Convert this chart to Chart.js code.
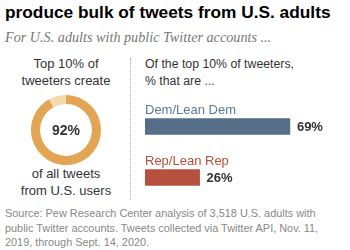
<!DOCTYPE html>
<html>
<head>
<meta charset="utf-8">
<script src="https://cdn.jsdelivr.net/npm/chart.js@4"></script>
<style>
  html, body { margin: 0; padding: 0; width: 350px; height: 250px; overflow: hidden; background: #fff; }
  body { position: relative; font-family: "Liberation Sans", Arial, sans-serif; color: #333; }
  .abs { position: absolute; }
  #title { left: 5px; top: 2px; font-size: 17.3px; font-weight: bold; color: #000; white-space: nowrap; }
  #subtitle { left: 5px; top: 29px; font-family: "Liberation Serif", serif; font-style: italic; font-size: 14.2px; color: #777; white-space: nowrap; }
  .center { text-align: center; font-size: 13px; line-height: 16.5px; }
  #topLeft { left: 6px; top: 56px; width: 120px; }
  #botLeft { left: 6px; top: 166px; width: 120px; }
  #topRight { left: 145px; top: 56px; font-size: 12.3px; line-height: 16.5px; white-space: nowrap; }
  #sep { left: 130px; top: 58px; height: 142px; border-left: 1px dotted #aaa; }
  #source { left: 5px; top: 206px; font-size: 10.9px; line-height: 14.5px; color: #888; white-space: nowrap; }
  #donutWrap { left: 31px; top: 95px; width: 70px; height: 70px; }
  #barWrap { left: 145px; top: 101px; width: 210px; height: 102px; }
</style>
</head>
<body>
<div id="title" class="abs">produce bulk of tweets from U.S. adults</div>
<div id="subtitle" class="abs">For U.S. adults with public Twitter accounts ...</div>
<div id="topLeft" class="abs center">Top 10% of<br>tweeters create</div>
<div id="botLeft" class="abs center">of all tweets<br>from U.S. users</div>
<div id="sep" class="abs"></div>
<div id="topRight" class="abs">Of the top 10% of tweeters,<br>% that are ...</div>
<div id="donutWrap" class="abs"><canvas id="donut"></canvas></div>
<div id="barWrap" class="abs"><canvas id="bars"></canvas></div>
<div id="source" class="abs">Source: Pew Research Center analysis of 3,518 U.S. adults with<br>public Twitter accounts. Tweets collected via Twitter API, Nov. 11,<br>2019, through Sept. 14, 2020.</div>

<script>
// share of all tweets by U.S. users
var tweetShare = [92, 8];
var tweetColors = ["#E3A453", "#F4D9AE"];

// party split of the top 10%
var parties = ["Dem/Lean Dem", "Rep/Lean Rep"];
var partyValues = [69, 26];
var partyColors = ["#546F87", "#B6513F"];
var partyTextColors = ["#5A7A95", "#B94D3B"];

var centerText = {
    id: "centerText",
    afterDraw: function (chart) {
        var ctx = chart.ctx;
        var arc = chart.getDatasetMeta(0).data[0];
        ctx.save();
        ctx.font = "bold 14px 'Liberation Sans', Arial, sans-serif";
        ctx.fillStyle = "#333";
        ctx.textAlign = "center";
        ctx.textBaseline = "middle";
        ctx.fillText(tweetShare[0] + "%", arc.x, arc.y + 1);
        ctx.restore();
    }
};

new Chart(document.getElementById("donut"), {
    type: "doughnut",
    data: {
        labels: ["Top 10%", "Rest"],
        datasets: [{ data: tweetShare, backgroundColor: tweetColors, borderWidth: 0 }]
    },
    options: {
        responsive: true,
        maintainAspectRatio: false,
        animation: false,
        cutout: "74%",
        events: [],
        plugins: { legend: { display: false }, tooltip: { enabled: false } }
    },
    plugins: [centerText]
});

var barLabels = {
    id: "barLabels",
    afterDatasetsDraw: function (chart) {
        var ctx = chart.ctx;
        var meta = chart.getDatasetMeta(0);
        ctx.save();
        meta.data.forEach(function (bar, i) {
            var half = bar.height / 2;
            ctx.font = "13px 'Liberation Sans', Arial, sans-serif";
            ctx.fillStyle = partyTextColors[i];
            ctx.textAlign = "left";
            ctx.textBaseline = "alphabetic";
            ctx.fillText(parties[i], bar.base, bar.y - half - 5);
            ctx.font = "bold 13px 'Liberation Sans', Arial, sans-serif";
            ctx.fillStyle = "#333";
            ctx.textBaseline = "middle";
            ctx.fillText(partyValues[i] + "%", bar.x + 7, bar.y + 1);
        });
        ctx.restore();
    }
};

new Chart(document.getElementById("bars"), {
    type: "bar",
    data: {
        labels: parties,
        datasets: [{ data: partyValues, backgroundColor: partyColors, barThickness: 16, borderWidth: 0 }]
    },
    options: {
        indexAxis: "y",
        responsive: true,
        maintainAspectRatio: false,
        animation: false,
        events: [],
        layout: { padding: 0 },
        scales: {
            x: { display: false, min: 0, max: 100 },
            y: { display: false }
        },
        plugins: { legend: { display: false }, tooltip: { enabled: false } }
    },
    plugins: [barLabels]
});
</script>
</body>
</html>
